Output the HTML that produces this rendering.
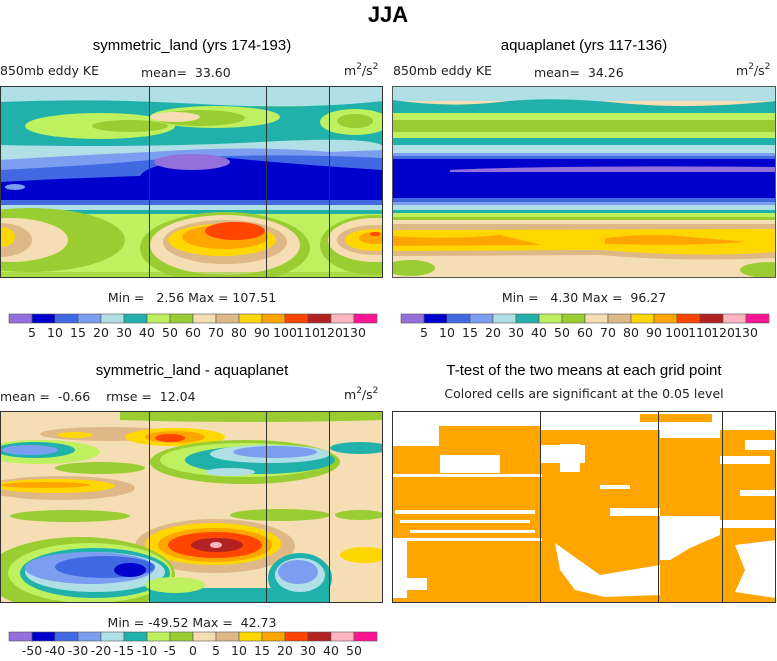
<!DOCTYPE html>
<html><head><meta charset="utf-8"><style>
body{margin:0;background:#fff;width:777px;height:661px;overflow:hidden;font-family:"Liberation Sans",sans-serif}
svg{display:block}
text{white-space:pre}
.t{font-family:"Liberation Sans",sans-serif;fill:#000}
.m{font-family:"DejaVu Sans","Liberation Sans",sans-serif;fill:#222;font-size:12.5px}
</style></head><body>
<svg id="fig" width="777" height="661" viewBox="0 0 777 661">
<text class="t" x="388" y="22" font-size="22" font-weight="bold" text-anchor="middle">JJA</text>
<text class="t" x="192" y="50" font-size="15" text-anchor="middle">symmetric_land (yrs 174-193)</text>
<text class="t" x="584" y="50" font-size="15" text-anchor="middle">aquaplanet (yrs 117-136)</text>
<text class="m" x="0" y="75">850mb eddy KE</text>
<text class="m" x="141" y="77">mean=  33.60</text>
<text class="m" x="344" y="75">m<tspan dy="-6" font-size="9">2</tspan><tspan dy="6">/s</tspan><tspan dy="-6" font-size="9">2</tspan></text>
<text class="m" x="393" y="75">850mb eddy KE</text>
<text class="m" x="534" y="77">mean=  34.26</text>
<text class="m" x="736" y="75">m<tspan dy="-6" font-size="9">2</tspan><tspan dy="6">/s</tspan><tspan dy="-6" font-size="9">2</tspan></text>
<text class="m" x="192" y="302" text-anchor="middle">Min =   2.56 Max = 107.51</text>
<text class="m" x="584" y="302" text-anchor="middle">Min =   4.30 Max =  96.27</text>
<text class="t" x="192" y="375" font-size="15" text-anchor="middle">symmetric_land - aquaplanet</text>
<text class="m" x="0" y="401">mean =  -0.66    rmse =  12.04</text>
<text class="m" x="344" y="399">m<tspan dy="-6" font-size="9">2</tspan><tspan dy="6">/s</tspan><tspan dy="-6" font-size="9">2</tspan></text>
<text class="t" x="584" y="375" font-size="15" text-anchor="middle">T-test of the two means at each grid point</text>
<text class="m" x="584" y="398" text-anchor="middle">Colored cells are significant at the 0.05 level</text>
<text class="m" x="192" y="627" text-anchor="middle">Min = -49.52 Max =  42.73</text>

<defs>
<clipPath id="c1"><rect x="0" y="86" width="383" height="192"/></clipPath>
<clipPath id="c2"><rect x="392" y="86" width="384" height="192"/></clipPath>
<clipPath id="c3"><rect x="0" y="411" width="383" height="192"/></clipPath>
<clipPath id="c4"><rect x="392" y="411" width="384" height="192"/></clipPath>
</defs>

<!-- Panel 1 -->
<g clip-path="url(#c1)">
<rect x="0" y="86" width="383" height="192" fill="#BEF05F"/>
<rect x="0" y="86" width="383" height="20" fill="#B0E0E6"/>
<path d="M0 102 Q100 98 200 104 T383 101 L383 148 L0 148Z" fill="#20B2AA"/>
<ellipse cx="100" cy="126" rx="75" ry="13" fill="#BEF05F"/>
<ellipse cx="215" cy="117" rx="65" ry="11" fill="#BEF05F"/>
<ellipse cx="355" cy="122" rx="35" ry="13" fill="#BEF05F"/>
<ellipse cx="130" cy="126" rx="38" ry="6" fill="#9ACD32"/>
<ellipse cx="200" cy="118" rx="45" ry="8" fill="#9ACD32"/>
<ellipse cx="355" cy="121" rx="18" ry="7" fill="#9ACD32"/>
<ellipse cx="175" cy="117" rx="25" ry="5" fill="#F5DEB3"/>
<path d="M0 145 Q150 148 260 142 T383 146 L383 160 L0 160Z" fill="#B0E0E6"/>
<path d="M0 160 Q80 155 150 152 Q250 145 330 152 L383 150 L383 205 L0 205Z" fill="#7B9EF0"/>
<path d="M0 170 Q100 165 150 160 Q250 152 383 158 L383 204 L0 204Z" fill="#4169E1"/>
<path d="M0 182 Q70 178 140 176 Q150 160 230 158 Q300 165 383 170 L383 200 L0 200Z" fill="#0000CD"/>
<ellipse cx="192" cy="162" rx="38" ry="8" fill="#9370DB"/>
<ellipse cx="15" cy="187" rx="10" ry="3" fill="#7B9EF0"/>
<rect x="0" y="200" width="383" height="6" fill="#4169E1"/>
<rect x="0" y="205" width="383" height="5" fill="#B0E0E6"/>
<rect x="0" y="210" width="383" height="4" fill="#20B2AA"/>
<ellipse cx="30" cy="240" rx="95" ry="32" fill="#9ACD32"/>
<ellipse cx="10" cy="240" rx="58" ry="22" fill="#F5DEB3"/>
<ellipse cx="0" cy="240" rx="32" ry="17" fill="#DEB887"/>
<ellipse cx="0" cy="237" rx="15" ry="10" fill="#FFD700"/>
<ellipse cx="225" cy="248" rx="85" ry="36" fill="#9ACD32"/>
<ellipse cx="225" cy="245" rx="75" ry="30" fill="#F5DEB3"/>
<ellipse cx="225" cy="242" rx="62" ry="22" fill="#DEB887"/>
<ellipse cx="222" cy="240" rx="54" ry="16" fill="#FFD700"/>
<ellipse cx="225" cy="237" rx="43" ry="12" fill="#FFA500"/>
<ellipse cx="235" cy="231" rx="30" ry="9" fill="#FF4500"/>
<ellipse cx="375" cy="245" rx="55" ry="30" fill="#9ACD32"/>
<ellipse cx="375" cy="240" rx="47" ry="22" fill="#F5DEB3"/>
<ellipse cx="375" cy="240" rx="38" ry="15" fill="#DEB887"/>
<ellipse cx="375" cy="240" rx="30" ry="11" fill="#FFD700"/>
<ellipse cx="375" cy="238" rx="16" ry="6" fill="#FFA500"/>
<ellipse cx="375" cy="234" rx="5" ry="2" fill="#FF4500"/>
<rect x="0" y="272" width="383" height="6" fill="#9ACD32" opacity="0.6"/>
</g>
<g stroke="#333" fill="none">
<rect x="0.5" y="86.5" width="382" height="191"/>
<line x1="149.5" y1="86" x2="149.5" y2="278"/><line x1="266.5" y1="86" x2="266.5" y2="278"/><line x1="329.5" y1="86" x2="329.5" y2="278"/>
</g>

<!-- Panel 2 -->
<g clip-path="url(#c2)">
<rect x="392" y="86" width="384" height="192" fill="#F5DEB3"/>
<rect x="392" y="86" width="384" height="15" fill="#B0E0E6"/>
<path d="M392 100 Q450 108 500 102 T620 103 T776 101 L776 113 L392 113Z" fill="#20B2AA"/>
<rect x="392" y="113" width="384" height="7" fill="#BEF05F"/>
<rect x="392" y="120" width="384" height="12" fill="#9ACD32"/>
<rect x="392" y="132" width="384" height="6" fill="#BEF05F"/>
<rect x="392" y="138" width="384" height="7" fill="#20B2AA"/>
<rect x="392" y="145" width="384" height="8" fill="#B0E0E6"/>
<rect x="392" y="153" width="384" height="3" fill="#7B9EF0"/>
<rect x="392" y="156" width="384" height="3" fill="#4169E1"/>
<rect x="392" y="159" width="384" height="40" fill="#0000CD"/>
<path d="M450 170 Q550 165 776 167 L776 172 Q600 172 450 172Z" fill="#9370DB"/>
<rect x="392" y="198" width="384" height="4" fill="#4169E1"/>
<rect x="392" y="202" width="384" height="3" fill="#7B9EF0"/>
<rect x="392" y="205" width="384" height="5" fill="#B0E0E6"/>
<rect x="392" y="210" width="384" height="3" fill="#20B2AA"/>
<rect x="392" y="213" width="384" height="4" fill="#BEF05F"/>
<rect x="392" y="217" width="384" height="3" fill="#9ACD32"/>
<rect x="392" y="220" width="384" height="4" fill="#F5DEB3"/>
<path d="M392 224 L776 224 L776 258 Q680 262 600 255 L392 256Z" fill="#DEB887"/>
<path d="M392 230 L776 229 L776 252 Q700 258 600 250 L392 251Z" fill="#FFD700"/>
<path d="M392 236 Q450 240 500 235 Q530 242 540 245 L392 246Z" fill="#FFA500"/>
<path d="M605 238 Q650 232 700 238 Q730 240 745 242 Q700 246 605 244Z" fill="#FFA500"/>
<ellipse cx="410" cy="268" rx="25" ry="8" fill="#9ACD32"/>
<ellipse cx="770" cy="270" rx="30" ry="8" fill="#9ACD32"/>
</g>
<rect x="392.5" y="86.5" width="383" height="191" fill="none" stroke="#555"/>

<!-- Panel 3 -->
<g clip-path="url(#c3)">
<rect x="0" y="411" width="383" height="192" fill="#F5DEB3"/>
<path d="M120 411 L383 411 L383 420 Q250 424 120 420Z" fill="#9ACD32"/>
<ellipse cx="110" cy="434" rx="70" ry="7" fill="#DEB887"/>
<ellipse cx="75" cy="435" rx="18" ry="3" fill="#FFD700"/>
<ellipse cx="175" cy="437" rx="50" ry="9" fill="#FFD700"/>
<ellipse cx="175" cy="437" rx="30" ry="6" fill="#FFA500"/>
<ellipse cx="170" cy="438" rx="15" ry="4" fill="#FF4500"/>
<ellipse cx="40" cy="452" rx="60" ry="12" fill="#BEF05F"/>
<ellipse cx="35" cy="450" rx="40" ry="8" fill="#20B2AA"/>
<ellipse cx="30" cy="450" rx="28" ry="5" fill="#7B9EF0"/>
<ellipse cx="245" cy="462" rx="95" ry="22" fill="#9ACD32"/>
<ellipse cx="245" cy="460" rx="85" ry="17" fill="#BEF05F"/>
<ellipse cx="260" cy="460" rx="75" ry="14" fill="#20B2AA"/>
<ellipse cx="270" cy="454" rx="60" ry="9" fill="#B0E0E6"/>
<ellipse cx="275" cy="452" rx="42" ry="6" fill="#7B9EF0"/>
<ellipse cx="230" cy="472" rx="25" ry="4" fill="#B0E0E6"/>
<ellipse cx="360" cy="448" rx="30" ry="6" fill="#20B2AA"/>
<ellipse cx="100" cy="468" rx="45" ry="6" fill="#9ACD32"/>
<ellipse cx="60" cy="488" rx="75" ry="12" fill="#DEB887"/>
<ellipse cx="55" cy="486" rx="60" ry="7" fill="#FFD700"/>
<ellipse cx="45" cy="485" rx="45" ry="3" fill="#FFA500"/>
<ellipse cx="70" cy="516" rx="60" ry="6" fill="#9ACD32"/>
<ellipse cx="280" cy="515" rx="50" ry="6" fill="#9ACD32"/>
<ellipse cx="360" cy="515" rx="25" ry="5" fill="#9ACD32"/>
<ellipse cx="215" cy="546" rx="80" ry="27" fill="#DEB887"/>
<ellipse cx="213" cy="544" rx="68" ry="21" fill="#FFD700"/>
<ellipse cx="215" cy="545" rx="57" ry="17" fill="#FFA500"/>
<ellipse cx="215" cy="545" rx="47" ry="13" fill="#FF4500"/>
<ellipse cx="217" cy="545" rx="26" ry="7" fill="#B22222"/>
<ellipse cx="216" cy="545" rx="6" ry="3" fill="#FFB6C1"/>
<ellipse cx="365" cy="555" rx="25" ry="8" fill="#FFD700"/>
<ellipse cx="80" cy="575" rx="95" ry="38" fill="#9ACD32"/>
<ellipse cx="90" cy="573" rx="82" ry="30" fill="#BEF05F"/>
<ellipse cx="95" cy="573" rx="75" ry="25" fill="#20B2AA"/>
<ellipse cx="95" cy="572" rx="70" ry="20" fill="#B0E0E6"/>
<ellipse cx="90" cy="568" rx="65" ry="16" fill="#7B9EF0"/>
<ellipse cx="105" cy="567" rx="50" ry="11" fill="#4169E1"/>
<ellipse cx="130" cy="570" rx="16" ry="7" fill="#0000CD"/>
<rect x="150" y="588" width="180" height="15" fill="#20B2AA"/>
<ellipse cx="175" cy="585" rx="30" ry="8" fill="#BEF05F"/>
<ellipse cx="300" cy="578" rx="32" ry="25" fill="#20B2AA"/>
<ellipse cx="300" cy="575" rx="25" ry="17" fill="#B0E0E6"/>
<ellipse cx="298" cy="572" rx="20" ry="12" fill="#7B9EF0"/>
</g>
<g stroke="#333" fill="none">
<rect x="0.5" y="411.5" width="382" height="191"/>
<line x1="149.5" y1="411" x2="149.5" y2="603"/><line x1="266.5" y1="411" x2="266.5" y2="603"/><line x1="329.5" y1="411" x2="329.5" y2="603"/>
</g>

<!-- Panel 4 -->
<g clip-path="url(#c4)">
<rect x="392" y="411" width="384" height="192" fill="#FFA500"/>
<g fill="#fff">
<rect x="392" y="411" width="384" height="15"/>
<rect x="392" y="426" width="47" height="20"/>
<rect x="540" y="426" width="120" height="4"/>
<rect x="660" y="422" width="60" height="16"/>
<rect x="720" y="426" width="56" height="4"/>
<rect x="440" y="455" width="60" height="18"/>
<rect x="392" y="474" width="150" height="3"/>
<rect x="540" y="445" width="45" height="18"/>
<rect x="560" y="444" width="20" height="28"/>
<rect x="395" y="510" width="140" height="4"/>
<rect x="400" y="520" width="130" height="3"/>
<rect x="410" y="530" width="125" height="3"/>
<rect x="392" y="538" width="150" height="3"/>
<rect x="392" y="540" width="15" height="58"/>
<rect x="392" y="578" width="35" height="12"/>
<rect x="600" y="485" width="30" height="4"/>
<rect x="610" y="508" width="50" height="8"/>
<rect x="660" y="516" width="60" height="6"/>
<rect x="700" y="520" width="76" height="8"/>
<rect x="740" y="490" width="36" height="6"/>
<polygon points="555,543 600,575 660,565 660,595 605,597 575,590 560,570"/>
<polygon points="660,522 720,522 720,535 690,548 670,560 660,560"/>
<polygon points="735,545 776,540 776,598 735,592 745,570"/>
<rect x="745" y="440" width="31" height="10"/>
<rect x="720" y="456" width="50" height="8"/>
</g>
<rect x="640" y="414" width="72" height="8" fill="#FFA500"/>
</g>
<g stroke="#333" fill="none">
<rect x="392.5" y="411.5" width="383" height="191"/>
<line x1="540.5" y1="411" x2="540.5" y2="603"/><line x1="658.5" y1="411" x2="658.5" y2="603"/><line x1="722.5" y1="411" x2="722.5" y2="603"/>
</g>
<g id="bars"></g>
</svg>
<script>
const barColors = ["#9370DB","#0000CD","#4169E1","#7B9EF0","#B0E0E6","#20B2AA","#BEF05F","#9ACD32","#F5DEB3","#DEB887","#FFD700","#FFA500","#FF4500","#B22222","#FFB6C1","#FF1493"];
const levelsKE = ["5","10","15","20","30","40","50","60","70","80","90","100","110","120","130"];
const levelsDiff = ["-50","-40","-30","-20","-15","-10","-5","0","5","10","15","20","30","40","50"];
const NS = "http://www.w3.org/2000/svg";
const g = document.getElementById("bars");
function colorbar(x0, y0, w, h, labels, name) {
  const grp = document.createElementNS(NS, "g");
  
  
  const bw = w / barColors.length;
  barColors.forEach((c, i) => {
    const r = document.createElementNS(NS, "rect");
    r.setAttribute("x", x0 + i * bw); r.setAttribute("y", y0);
    r.setAttribute("width", bw); r.setAttribute("height", h);
    r.setAttribute("fill", c); r.setAttribute("stroke", "#555"); r.setAttribute("stroke-width", "0.6");
    
    
    grp.appendChild(r);
  });
  labels.forEach((t, i) => {
    const tx = document.createElementNS(NS, "text");
    tx.setAttribute("x", x0 + (i + 1) * bw); tx.setAttribute("y", y0 + h + 14);
    tx.setAttribute("text-anchor", "middle"); tx.setAttribute("class", "m");
    tx.setAttribute("font-size", "12");
    tx.textContent = t;
    
    
    grp.appendChild(tx);
  });
  g.appendChild(grp);
}
colorbar(9, 314, 368, 9, levelsKE, "colorbar-panel1");
colorbar(401, 314, 368, 9, levelsKE, "colorbar-panel2");
colorbar(9, 632, 368, 9, levelsDiff, "colorbar-panel3");
</script>
</body></html>
